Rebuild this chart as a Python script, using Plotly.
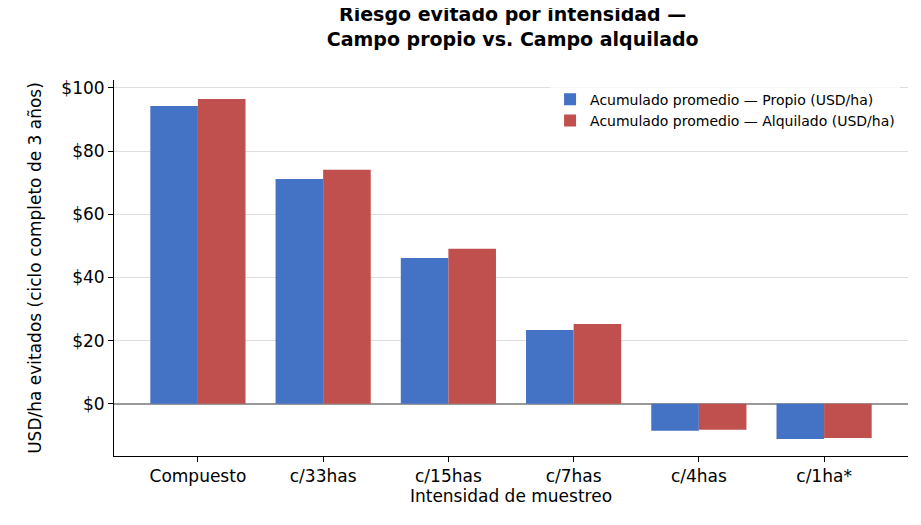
import plotly.graph_objects as go

categories = ["Compuesto", "c/33has", "c/15has", "c/7has", "c/4has", "c/1ha*"]
propio = [94.3, 71.2, 46.2, 23.4, -8.5, -11.1]
alquilado = [96.5, 74.1, 49.1, 25.3, -8.2, -10.8]
tickvals = [0, 20, 40, 60, 80, 100]
ticktext = ["$0", "$20", "$40", "$60", "$80", "$100"]

fig = go.Figure()
fig.add_bar(x=categories, y=propio, name="Acumulado promedio — Propio (USD/ha)",
            marker=dict(color="#4472C4", line=dict(width=0)))
fig.add_bar(x=categories, y=alquilado, name="Acumulado promedio — Alquilado (USD/ha)",
            marker=dict(color="#C0504D", line=dict(width=0)))
fig.update_layout(
    width=921, height=525, barmode="group", bargap=0.24, bargroupgap=0,
    plot_bgcolor="white", paper_bgcolor="white",
    font=dict(family="DejaVu Sans", size=16, color="black"),
    margin=dict(l=106, r=21, t=72, b=77),
    title=dict(text="<b>Riesgo evitado por intensidad —<br>Campo propio vs. Campo alquilado</b>",
               x=0.548, xanchor="center", y=0.975, yanchor="top", font=dict(size=19)),
    legend=dict(x=0.99, y=0.99, xanchor="right", yanchor="top", font=dict(size=14),
                bgcolor="rgba(255,255,255,0.8)"),
    xaxis=dict(title=dict(text="Intensidad de muestreo", standoff=4, font=dict(size=17)),
               showline=True, linecolor="black", tickfont=dict(size=17),
               ticks="outside", tickcolor="black", range=[-0.67, 5.67]),
    yaxis=dict(title=dict(text="USD/ha evitados (ciclo completo de 3 años)", font=dict(size=17)),
               range=[-16.5, 102.5], tickfont=dict(size=17),
               tickvals=tickvals, ticktext=ticktext, showline=True, linecolor="black",
               ticks="outside", tickcolor="black", showgrid=True, gridcolor="#dddddd",
               zeroline=True, zerolinecolor="#999999", zerolinewidth=1.5),
)
fig.write_html("out.html")
